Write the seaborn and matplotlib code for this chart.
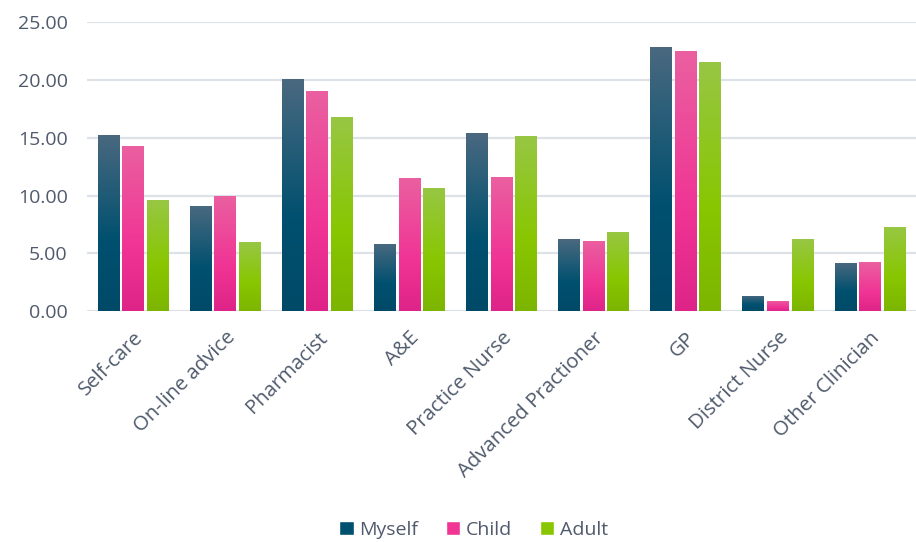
import numpy as np
import pandas as pd
import matplotlib
matplotlib.use("Agg")
from matplotlib import pyplot
from matplotlib.colors import LinearSegmentedColormap
from matplotlib.patches import Patch
import matplotlib.ticker as mtick
import seaborn as sns

categories = ["Self-care", "On-line advice", "Pharmacist", "A&E", "Practice Nurse",
              "Advanced Practioner", "GP", "District Nurse", "Other Clinician"]
myself = [15.24, 9.09, 20.09, 5.80, 15.41, 6.23, 22.86, 1.30, 4.16]
child = [14.29, 9.96, 19.05, 11.52, 11.60, 6.06, 22.51, 0.87, 4.24]
adult = [9.61, 5.97, 16.80, 10.65, 15.15, 6.84, 21.56, 6.23, 7.27]
groups = ["Myself", "Child", "Adult"]

# gradient stops per series: top, middle, bottom
grad = {
    "Myself": ["#4a6980", "#00506f", "#004a68"],
    "Child": ["#ea60a0", "#f03595", "#df2489"],
    "Adult": ["#97c744", "#88c600", "#7cb500"],
}

df = pd.DataFrame({"cat": categories * 3,
                   "value": myself + child + adult,
                   "who": [g for g in groups for _ in categories]})

sns.set_theme(style="white")
pyplot.rcParams["font.family"] = ["Open Sans", "DejaVu Sans"]
txt = "#4f5a6c"

fig = pyplot.figure(figsize=(9.16, 5.42), dpi=100)
ax = fig.add_axes([0.095, 0.426, 0.905, 0.533])

palette = {g: grad[g][1] for g in groups}
sns.barplot(data=df, x="cat", y="value", hue="who", palette=palette,
            width=0.8, gap=0.12, ax=ax, legend=False, saturation=1)

ax.yaxis.set_major_locator(mtick.MultipleLocator(5))
ax.yaxis.set_major_formatter(mtick.FuncFormatter(lambda y, _: "{:.2f}".format(y)))
ax.grid(axis="y", color="#dde1e8", linewidth=1.6)
ax.set_axisbelow(True)
for s in ax.spines.values():
    s.set_visible(False)
ax.set_xlabel("")
ax.set_ylabel("")
ax.tick_params(axis="both", length=0, colors=txt)
ax.tick_params(axis="y", pad=14, labelsize=14)
ax.tick_params(axis="x", pad=12, labelsize=14.7)
for lab in ax.get_xticklabels():
    lab.set_rotation(45)
    lab.set_ha("right")
    lab.set_rotation_mode("anchor")

# gradient fill for each bar
n = len(categories)
for i, p in enumerate(ax.patches[:3 * n]):
    g = groups[i // n]
    cmap = LinearSegmentedColormap.from_list(g, [(0, grad[g][2]), (0.4, grad[g][1]), (1, grad[g][0])])
    x0, y0 = p.get_x(), p.get_y()
    w, h = p.get_width(), p.get_height()
    img = ax.imshow(np.linspace(0, 1, 256).reshape(-1, 1), cmap=cmap, origin="lower",
                    extent=[x0, x0 + w, y0, y0 + h], aspect="auto", zorder=2)
    img.set_clip_path(p)
    p.set_facecolor("none")
    p.set_edgecolor("none")
ax.set_xlim(-0.5, len(categories) - 0.5)
ax.set_ylim(0, 25)

handles = [Patch(facecolor=grad[g][1], label=g) for g in groups]
fig.legend(handles=handles, loc="center", bbox_to_anchor=(0.517, 0.022), ncol=3,
           frameon=False, fontsize=14, handlelength=0.75, handleheight=0.75,
           handletextpad=0.3, columnspacing=1.4, labelcolor=txt)

fig.savefig("out.png", dpi=100)
